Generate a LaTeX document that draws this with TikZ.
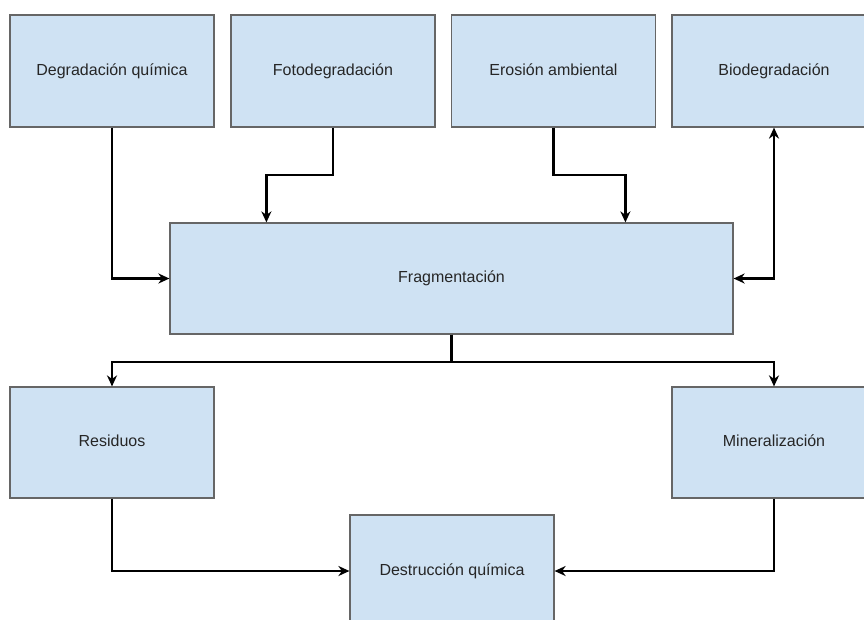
\documentclass[tikz,border=0pt]{standalone}
\usepackage{fontspec}
\setmainfont{Liberation Sans}
\usetikzlibrary{arrows.meta,calc}
\definecolor{boxfill}{HTML}{CFE2F3}
\definecolor{boxline}{HTML}{666666}
\begin{document}
\begin{tikzpicture}[x={(1pt,0)},y={(0,-1pt)},
  box/.style={draw=boxline,line width=1.2pt,fill=boxfill,rectangle,minimum width=204pt,minimum height=112pt,inner sep=0pt,text height=11.5pt,text depth=3.5pt,font=\fontsize{16}{19}\selectfont,text=black!85},
  arr/.style={draw=black,line width=2.2pt,-{Stealth[length=11pt,width=10pt,inset=3.5pt]}},
  arrb/.style={draw=black,line width=2.2pt,{Stealth[length=11pt,width=10pt,inset=3.5pt]}-{Stealth[length=11pt,width=10pt,inset=3.5pt]}}]
\useasboundingbox (0,0) rectangle (864,619);
\clip (0,0) rectangle (864,619);
\node[box] (deg) at (112,71) {Degradación química};
\node[box] (foto) at (333,71) {Fotodegradación};
\node[box] (eros) at (553.5,71) {Erosión ambiental};
\node[box] (bio) at (774,71) {Biodegradación};
\node[box,minimum width=563pt,minimum height=111pt] (frag) at (451.5,278.5) {Fragmentación};
\node[box,minimum height=111pt] (res) at (112,442.5) {Residuos};
\node[box,minimum height=111pt] (min) at (774,442.5) {Mineralización};
\node[box] (des) at (452,571) {Destrucción química};
\draw[arr] (deg.south) |- (frag.west);
\draw[arr] (foto.south) -- ++(0,47) -| ($(frag.north west)+(97,0)$);
\draw[arr] (eros.south) -- ++(0,47) -| ($(frag.north west)+(456,0)$);
\draw[arrb] (frag.east) -| (bio.south);
\draw[arr] (frag.south) -- ++(0,27) -| (res.north);
\draw[arr] (frag.south) -- ++(0,27) -| (min.north);
\draw[arr] (res.south) |- (des.west);
\draw[arr] (min.south) |- (des.east);
\end{tikzpicture}
\end{document}
